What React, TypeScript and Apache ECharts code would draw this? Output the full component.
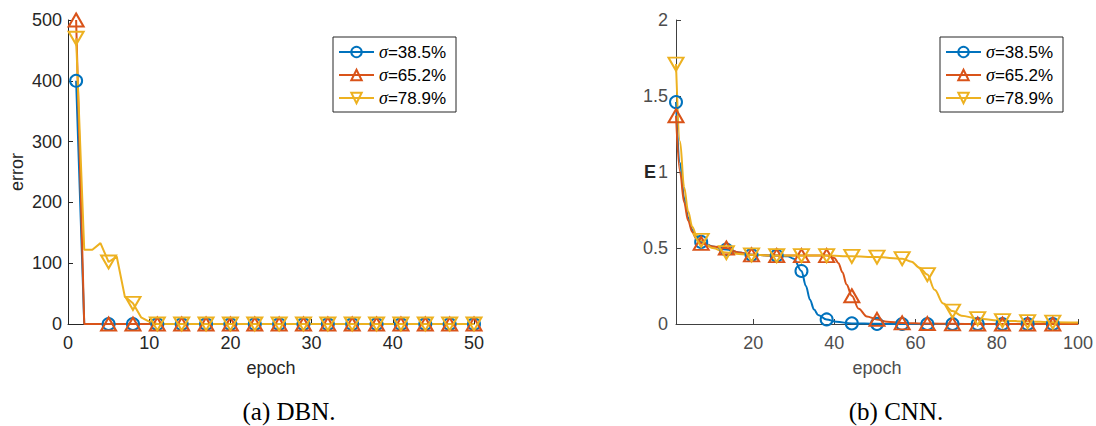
import React, { useEffect, useRef } from 'react';
import * as echarts from 'echarts';

// ---------- DATA ----------
const seriesNames = ['σ=38.5%', 'σ=65.2%', 'σ=78.9%'];

// (a) DBN: error per epoch, epochs 1..50
const dbnBlue = [400, 0, 0, 0, 0, 0, 0, 0, 0, 0, 0, 0, 0, 0, 0, 0, 0, 0, 0, 0, 0, 0, 0, 0, 0,
  0, 0, 0, 0, 0, 0, 0, 0, 0, 0, 0, 0, 0, 0, 0, 0, 0, 0, 0, 0, 0, 0, 0, 0, 0];
const dbnRed = [500, 0, 0, 0, 0, 0, 0, 0, 0, 0, 0, 0, 0, 0, 0, 0, 0, 0, 0, 0, 0, 0, 0, 0, 0,
  0, 0, 0, 0, 0, 0, 0, 0, 0, 0, 0, 0, 0, 0, 0, 0, 0, 0, 0, 0, 0, 0, 0, 0, 0];
const dbnYellow = [470, 122, 122, 133, 102, 111, 45, 34, 11, 4, 0, 0, 0, 0, 0, 0, 0, 0, 0, 0, 0, 0, 0, 0, 0,
  0, 0, 0, 0, 0, 0, 0, 0, 0, 0, 0, 0, 0, 0, 0, 0, 0, 0, 0, 0, 0, 0, 0, 0, 0];
const dbnMarkerEpochs = [1, 5, 8, 11, 14, 17, 20, 23, 26, 29, 32, 35, 38, 41, 44, 47, 50];

// (b) CNN: [epoch, E]
const cnnMarkerEpochs = [1, 7.2, 13.4, 19.6, 25.8, 31.9, 38.1, 44.3, 50.5, 56.7, 62.9, 69.1, 75.3, 81.4, 87.6, 93.8];
const cnnBlue = [
  [1, 1.46], [2, 1.06], [3, 0.83], [4, 0.7], [5, 0.62], [6, 0.575], [7.2, 0.54], [10, 0.51],
  [13.4, 0.49], [16.5, 0.47], [19.6, 0.455], [25.8, 0.45], [28.5, 0.445], [30, 0.43], [31.9, 0.349],
  [33, 0.25], [34, 0.16], [35, 0.095], [36, 0.06], [38.1, 0.03], [40.5, 0.014], [44.3, 0.004],
  [50.5, 0.001], [56.7, 0], [62.9, 0], [69.1, 0], [75.3, 0], [81.4, 0], [87.6, 0], [93.8, 0], [100, 0],
];
const cnnRed = [
  [1, 1.37], [2, 1.0], [3, 0.8], [4, 0.68], [5, 0.605], [6, 0.56], [7.2, 0.53], [10, 0.51],
  [13.4, 0.5], [16.5, 0.47], [19.6, 0.455], [25.8, 0.45], [31.9, 0.45], [38.1, 0.45], [40, 0.435],
  [41, 0.4], [42, 0.34], [43, 0.26], [44.3, 0.186], [46, 0.1], [48, 0.05], [50.5, 0.03], [53, 0.015],
  [56.7, 0.007], [62.9, 0.003], [69.1, 0.001], [75.3, 0], [81.4, 0], [87.6, 0], [93.8, 0], [100, 0],
];
const cnnYellow = [
  [1, 1.71], [2, 1.2], [3, 0.9], [4, 0.74], [5, 0.64], [6, 0.585], [7.2, 0.55], [10, 0.5],
  [13.4, 0.47], [16.5, 0.46], [19.6, 0.455], [25.8, 0.45], [31.9, 0.45], [38.1, 0.45], [44.3, 0.445],
  [50.5, 0.44], [56.7, 0.43], [59, 0.41], [61, 0.37], [62.9, 0.325], [64.7, 0.225], [66.8, 0.135],
  [69.1, 0.085], [71.3, 0.055], [75.3, 0.035], [81.4, 0.022], [87.6, 0.016], [93.8, 0.012], [100, 0.01],
];

const dbnYTicks = [0, 500, 100];
const cnnXTickLabels = [20, 40, 60, 80, 100];

// ---------- STYLE ----------
const COLORS = ['#0072BD', '#D95319', '#EDB120'];
const SYMBOLS = ['circle', 'triangle', 'path://M0,0L10,0L5,9Z'];
const SIZES: any[] = [12, [15, 13], [15, 13]];
const SANS = '"Liberation Sans", Arial, sans-serif';

function makeSeries(idx: number, grid: number, points: number[][], markers: number[]) {
  const mk = new Set(markers.map((m) => m.toFixed(1)));
  return {
    name: seriesNames[idx],
    type: 'line',
    xAxisIndex: grid,
    yAxisIndex: grid,
    smooth: grid === 1 ? 0.35 : false,
    smoothMonotone: 'x',
    symbol: SYMBOLS[idx],
    symbolSize: SIZES[idx],
    showSymbol: true,
    lineStyle: { color: COLORS[idx], width: 2 },
    itemStyle: { color: 'rgba(0,0,0,0)', borderColor: COLORS[idx], borderWidth: 2 },
    emphasis: { disabled: true },
    data: points.map((p) =>
      mk.has(p[0].toFixed(1)) ? { value: p } : { value: p, symbol: 'none' }
    ),
    z: 3,
  };
}

function legendFor(left: number) {
  return {
    left,
    top: 37,
    orient: 'vertical',
    itemWidth: 35,
    itemHeight: 13,
    itemGap: 5,
    padding: [6, 10, 5, 5],
    borderColor: '#262626',
    borderWidth: 1,
    backgroundColor: '#fff',
    selectedMode: false,
    data: seriesNames,
    formatter: (n: string) => n.replace('σ', '{s|σ}'),
    textStyle: {
      fontSize: 17,
      fontFamily: SANS,
      color: '#000',
      rich: { s: { fontSize: 18, fontStyle: 'italic', fontFamily: '"Liberation Serif", serif', color: '#000' } },
    },
  };
}

export default function App() {
  const ref = useRef<HTMLDivElement>(null);
  useEffect(() => {
    document.body.style.margin = '0';
    const chart = echarts.init(ref.current!, null, { renderer: 'svg' });
    const dbnPts = (vals: number[]) => vals.map((v, i) => [i + 1, v]);
    const darkAxis = '#262626';
    const rightAxis = '#404040';
    const option: any = {
      animation: false,
      backgroundColor: '#fff',
      grid: [
        { left: 68, top: 20, width: 406, height: 304 },
        { left: 676, top: 20, width: 403, height: 304 },
      ],
      xAxis: [
        {
          gridIndex: 0, type: 'value', min: 0, max: 50, interval: 10,
          name: 'epoch', nameLocation: 'middle', nameGap: 35, nameMoveOverlap: false,
          nameTextStyle: { fontSize: 18, fontFamily: SANS, color: darkAxis },
          axisLine: { show: true, lineStyle: { color: darkAxis, width: 1 } },
          axisTick: { show: true, inside: true, length: 5, lineStyle: { color: darkAxis } },
          axisLabel: { margin: 10, fontSize: 18, fontFamily: SANS, color: darkAxis },
          splitLine: { show: false },
        },
        {
          gridIndex: 1, type: 'value', min: 1, max: 100,
          name: 'epoch', nameLocation: 'middle', nameGap: 35, nameMoveOverlap: false,
          nameTextStyle: { fontSize: 18, fontFamily: SANS, color: '#4d4d4d' },
          axisLine: { show: true, lineStyle: { color: rightAxis, width: 1 } },
          axisTick: { show: true, inside: true, length: 5, customValues: cnnXTickLabels, lineStyle: { color: rightAxis } },
          axisLabel: { margin: 10, fontSize: 18, fontFamily: SANS, color: '#4d4d4d', customValues: cnnXTickLabels },
          splitLine: { show: false },
        },
      ],
      yAxis: [
        {
          gridIndex: 0, type: 'value', min: dbnYTicks[0], max: dbnYTicks[1], interval: dbnYTicks[2],
          name: 'error', nameLocation: 'middle', nameGap: 42, nameMoveOverlap: false,
          nameTextStyle: { fontSize: 18, fontFamily: SANS, color: darkAxis },
          axisLine: { show: true, lineStyle: { color: darkAxis, width: 1 } },
          axisTick: { show: true, inside: true, length: 5, lineStyle: { color: darkAxis } },
          axisLabel: { margin: 6, fontSize: 18, fontFamily: SANS, color: darkAxis },
          splitLine: { show: false },
        },
        {
          gridIndex: 1, type: 'value', min: 0, max: 2, interval: 0.5,
          name: 'E', nameLocation: 'middle', nameGap: 20, nameRotate: 0, nameMoveOverlap: false,
          nameTextStyle: { fontSize: 18, fontWeight: 'bold', fontFamily: SANS, color: '#262626' },
          axisLine: { show: true, lineStyle: { color: rightAxis, width: 1 } },
          axisTick: { show: true, inside: true, length: 5, lineStyle: { color: rightAxis } },
          axisLabel: { margin: 8, fontSize: 18, fontFamily: SANS, color: '#4d4d4d' },
          splitLine: { show: false },
        },
      ],
      legend: [legendFor(333), legendFor(940)],
      series: [
        makeSeries(0, 0, dbnPts(dbnBlue), dbnMarkerEpochs),
        makeSeries(1, 0, dbnPts(dbnRed), dbnMarkerEpochs),
        makeSeries(2, 0, dbnPts(dbnYellow), dbnMarkerEpochs),
        makeSeries(0, 1, cnnBlue, cnnMarkerEpochs),
        makeSeries(1, 1, cnnRed, cnnMarkerEpochs),
        makeSeries(2, 1, cnnYellow, cnnMarkerEpochs),
      ],
      graphic: [
        {
          type: 'text', x: 289, y: 411,
          style: { text: '(a) DBN.', fontSize: 25, fontFamily: '"Liberation Serif", serif', fill: '#000', align: 'center', verticalAlign: 'middle' },
        },
        {
          type: 'text', x: 896, y: 411,
          style: { text: '(b) CNN.', fontSize: 25, fontFamily: '"Liberation Serif", serif', fill: '#000', align: 'center', verticalAlign: 'middle' },
        },
      ],
    };
    chart.setOption(option);
    return () => chart.dispose();
  }, []);
  return <div ref={ref} style={{ width: 1096, height: 426 }} />;
}
